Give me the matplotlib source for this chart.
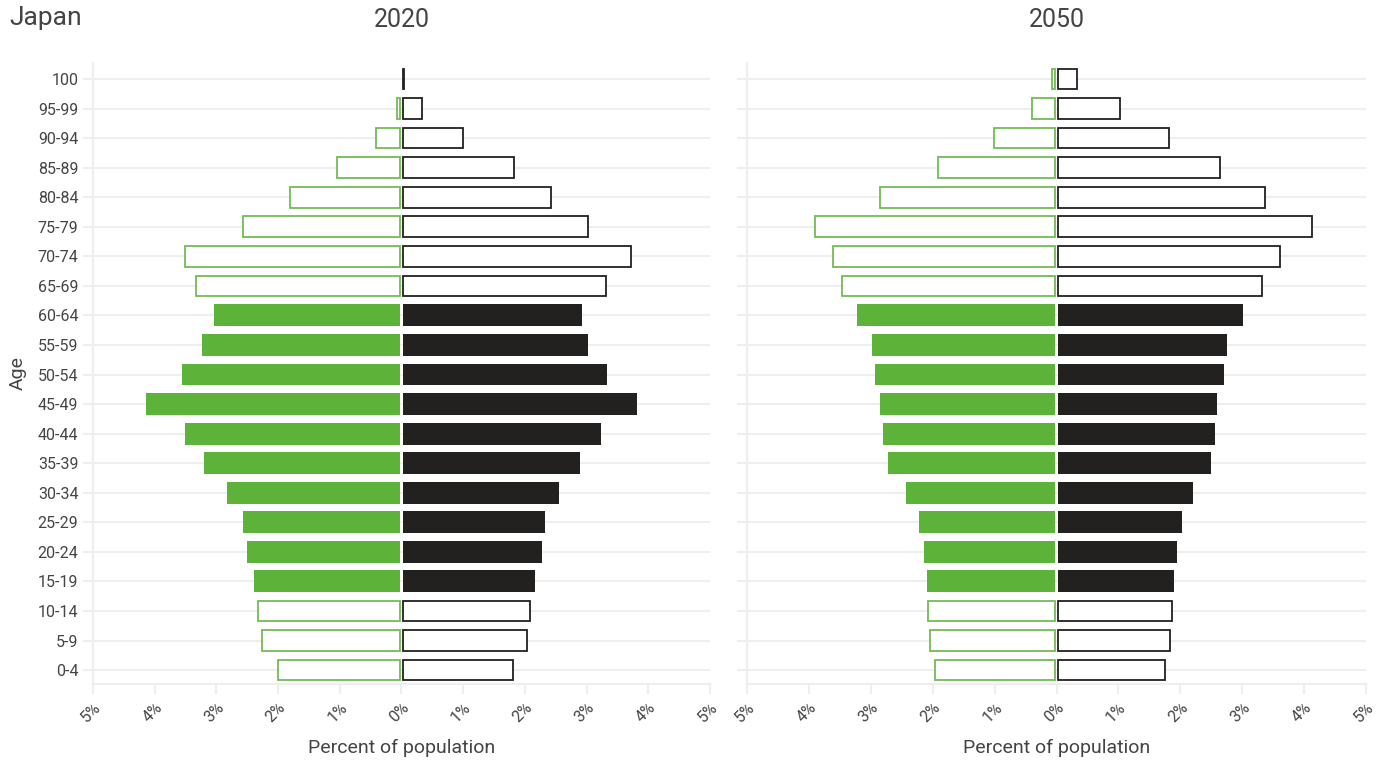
import matplotlib
matplotlib.use('Agg')
import matplotlib.pyplot as plt

ages = ['0-4', '5-9', '10-14', '15-19', '20-24', '25-29', '30-34', '35-39', '40-44',
        '45-49', '50-54', '55-59', '60-64', '65-69', '70-74', '75-79', '80-84',
        '85-89', '90-94', '95-99', '100']

# percent of population, listed from 0-4 up to 100
female_2020 = [1.98, 2.24, 2.30, 2.37, 2.48, 2.54, 2.80, 3.18, 3.48, 4.12, 3.53,
               3.21, 3.01, 3.31, 3.48, 2.54, 1.78, 1.02, 0.39, 0.06, 0.0]
male_2020 = [1.78, 2.01, 2.07, 2.14, 2.25, 2.30, 2.54, 2.88, 3.21, 3.79, 3.31,
             3.01, 2.90, 3.29, 3.70, 3.00, 2.40, 1.80, 0.97, 0.31, 0.02]
female_2050 = [1.94, 2.02, 2.05, 2.08, 2.12, 2.21, 2.41, 2.71, 2.79, 2.83, 2.92,
               2.96, 3.20, 3.44, 3.59, 3.89, 2.84, 1.89, 0.99, 0.37, 0.05]
male_2050 = [1.74, 1.81, 1.84, 1.87, 1.92, 2.00, 2.18, 2.47, 2.54, 2.58, 2.68,
             2.73, 2.99, 3.30, 3.59, 4.10, 3.34, 2.62, 1.79, 1.00, 0.31]

working = ['15-19', '20-24', '25-29', '30-34', '35-39', '40-44', '45-49',
           '50-54', '55-59', '60-64']
xticks = [-5, -4, -3, -2, -1, 0, 1, 2, 3, 4, 5]

GREEN = '#5db33a'
GREEN_EDGE = '#74bb55'
BLACK = '#22211f'
GRID = '#eeeeee'
TEXT = '#444444'

plt.rcParams['font.family'] = ['Roboto', 'DejaVu Sans']

fig = plt.figure(figsize=(13.85, 7.61), dpi=100)
ax1 = fig.add_axes([0.0671, 0.1012, 0.4455, 0.816])
ax2 = fig.add_axes([0.5394, 0.1012, 0.4469, 0.816])


def draw(ax, fem, mal, year):
    y = list(range(len(ages)))
    for i, a in enumerate(ages):
        if fem[i] > 0:
            if a in working:
                ax.barh(i, -fem[i], left=-0.02, height=0.74, color=GREEN, edgecolor='none', zorder=3)
            else:
                ax.barh(i, -fem[i], left=-0.02, height=0.70, facecolor='white',
                        edgecolor=GREEN_EDGE, linewidth=1.3, zorder=3)
        if a in working:
            ax.barh(i, mal[i], left=0.02, height=0.74, color=BLACK, edgecolor='none', zorder=3)
        else:
            ax.barh(i, mal[i], left=0.02, height=0.70, facecolor='white',
                    edgecolor=BLACK, linewidth=1.3, zorder=3)
    ax.set_xlim(-5, 5)
    ax.set_ylim(-0.47, 20.54)
    ax.set_yticks(y)
    ax.set_yticklabels(ages)
    ax.set_xticks(xticks)
    ax.set_xticklabels([f'{abs(t)}%' for t in xticks], rotation=45, ha='right',
                       rotation_mode='anchor')
    for yy in y:
        ax.axhline(yy, color=GRID, linewidth=1.5, zorder=1)
    for s in ['top', 'right']:
        ax.spines[s].set_visible(False)
    for s in ['left', 'bottom']:
        ax.spines[s].set_color(GRID)
        ax.spines[s].set_linewidth(1.5)
    ax.tick_params(axis='both', color=GRID, width=1.5, length=7, labelsize=11.5)
    ax.tick_params(axis='both', labelcolor=TEXT)
    ax.tick_params(axis='x', pad=4)
    ax.set_xlabel('Percent of population', fontsize=14, color=TEXT, labelpad=10)
    ax.set_title(year, fontsize=18, color=TEXT, pad=26)


draw(ax1, female_2020, male_2020, '2020')
draw(ax2, female_2050, male_2050, '2050')
ax2.tick_params(axis='y', labelleft=False)
ax1.set_ylabel('Age', fontsize=14, color=TEXT, labelpad=8)

fig.text(0.007, 0.976, 'Japan', fontsize=19, color=TEXT, va='center')

fig.savefig('out.png', dpi=100)
